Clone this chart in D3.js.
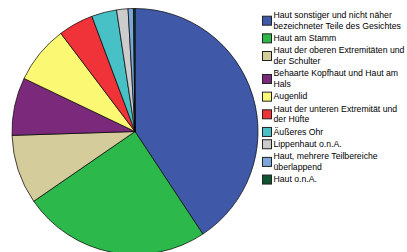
<!DOCTYPE html>
<html>
<head>
<meta charset="utf-8">
<script src="https://cdn.jsdelivr.net/npm/d3@7"></script>
<style>
  body { margin: 0; background: #fff; }
  svg { display: block; }
</style>
</head>
<body>
<div id="chart"></div>
<script>
// Categories, shares (percent) and colours
const categories = [
  ["Haut sonstiger und nicht näher", "bezeichneter Teile des Gesichtes"],
  ["Haut am Stamm"],
  ["Haut der oberen Extremitäten und", "der Schulter"],
  ["Behaarte Kopfhaut und Haut am", "Hals"],
  ["Augenlid"],
  ["Haut der unteren Extremität und", "der Hüfte"],
  ["Äußeres Ohr"],
  ["Lippenhaut o.n.A."],
  ["Haut, mehrere Teilbereiche", "überlappend"],
  ["Haut o.n.A."]
];
const values = [40.7, 24.7, 9.1, 7.6, 7.6, 4.6, 3.3, 1.5, 0.7, 0.2];
const colors = ["#3f59a8", "#2db84b", "#d4cc9a", "#7b2a7b", "#fbf873",
                "#ef3339", "#48c1c6", "#cccccc", "#7ba7d9", "#0e5530"];

const width = 407, height = 252;

const svg = d3.select("#chart")
  .append("svg")
  .attr("width", width)
  .attr("height", height);

// Pie
const cx = 135, cy = 131.5, r = 123;
const pie = d3.pie().sort(null).value(d => d);
const arc = d3.arc().innerRadius(0).outerRadius(r);

svg.append("g")
  .attr("transform", "translate(" + cx + "," + cy + ")")
  .selectAll("path")
  .data(pie(values))
  .enter()
  .append("path")
  .attr("d", arc)
  .attr("fill", (d, i) => colors[i])
  .attr("stroke", "#000")
  .attr("stroke-width", 0.7)
  .attr("stroke-linejoin", "round");

// Legend
const lineH = 10.7, gap = 1.6, fontSize = 8.7;
const legend = svg.append("g").attr("transform", "translate(262,10)");
let y = 0;
categories.forEach((lines, i) => {
  const h = lines.length * lineH;
  legend.append("rect")
    .attr("x", 0.5)
    .attr("y", y + h / 2 - 4.5)
    .attr("width", 9)
    .attr("height", 9)
    .attr("fill", colors[i])
    .attr("stroke", "#222")
    .attr("stroke-width", 1);
  const t = legend.append("text")
    .attr("x", 11.5)
    .attr("y", y)
    .style("font-family", "Arial, 'Liberation Sans', sans-serif")
    .style("font-size", fontSize + "px")
    .attr("fill", "#000");
  lines.forEach((s, j) => {
    t.append("tspan")
      .attr("x", 11.5)
      .attr("y", y + j * lineH + 8)
      .text(s);
  });
  y += h + gap;
});
</script>
</body>
</html>
